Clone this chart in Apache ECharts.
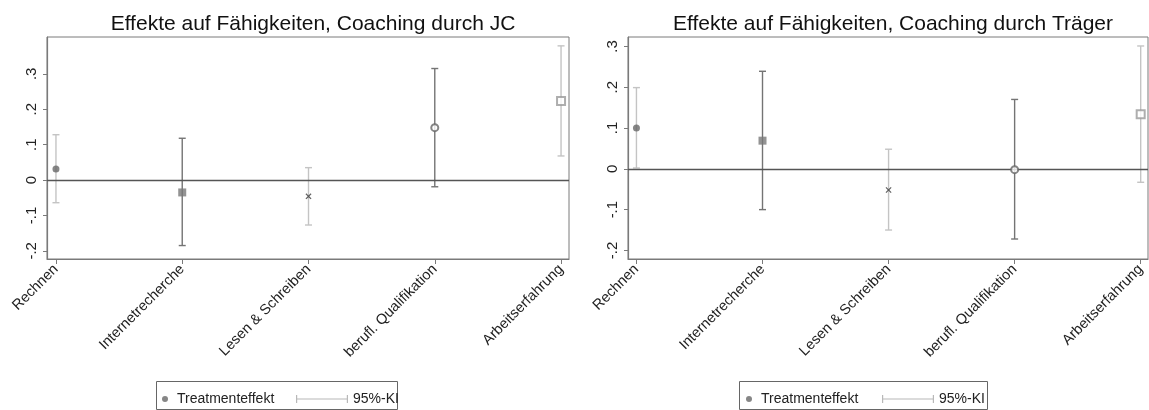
<!DOCTYPE html>
<html>
<head>
<meta charset="utf-8">
<script src="https://cdn.jsdelivr.net/npm/echarts@6/dist/echarts.min.js"></script>
<style>
  html, body { margin: 0; padding: 0; background: #fff; }
  #chart { width: 1149px; height: 410px; }
</style>
</head>
<body>
<div id="chart"></div>
<script>
// ---- data ----
const categories = ['Rechnen', 'Internetrecherche', 'Lesen & Schreiben', 'berufl. Qualifikation', 'Arbeitserfahrung'];
const titles = ['Effekte auf Fähigkeiten, Coaching durch JC', 'Effekte auf Fähigkeiten, Coaching durch Träger'];

const jcEffect = [0.031, -0.035, -0.046, 0.148, 0.223];
const jcLow    = [-0.064, -0.185, -0.127, -0.019, 0.068];
const jcHigh   = [0.128, 0.118, 0.035, 0.315, 0.379];

const trEffect = [0.100, 0.069, -0.052, -0.002, 0.134];
const trLow    = [0.002, -0.100, -0.150, -0.172, -0.033];
const trHigh   = [0.199, 0.239, 0.048, 0.170, 0.301];

const yTickValues = [-0.2, -0.1, 0, 0.1, 0.2, 0.3];
const yTickLabels = ['-.2', '-.1', '0', '.1', '.2', '.3'];
const legendNames = ['Treatmenteffekt', '95%-KI'];

// ---- styles ----
const FONT = 'Liberation Sans, Arial, sans-serif';
const LIGHT = '#c4c4c4';
const DARK = '#747474';
const FRAME = '#7a7a7a';
const xPath = 'path://M0,1.4 L1.4,0 L5,3.6 L8.6,0 L10,1.4 L6.4,5 L10,8.6 L8.6,10 L5,6.4 L1.4,10 L0,8.6 L3.6,5 Z';
const markerStyles = [
  { symbol: 'circle', symbolSize: 7, itemStyle: { color: '#686868' } },
  { symbol: 'rect', symbolSize: 8, itemStyle: { color: '#787878' } },
  { symbol: xPath, symbolSize: 6, itemStyle: { color: '#3a3a3a' } },
  { symbol: 'emptyCircle', symbolSize: 7, itemStyle: { color: '#666', borderWidth: 1.4 } },
  { symbol: 'emptyRect', symbolSize: 8, itemStyle: { color: '#9a9a9a', borderWidth: 1.2 } }
];
const ciShade = [0, 1, 0, 1, 0]; // 0 light, 1 dark

const panels = [
  { eff: jcEffect, lo: jcLow, hi: jcHigh, grid: { left: 47, top: 37, width: 522, height: 222 }, yMin: -0.223, yMax: 0.404, xMin: 0.929, xMax: 5.063, titleX: 308,
    legendDot: 157, legendKI: 291, box: [156, 381, 241, 28] },
  { eff: trEffect, lo: trLow, hi: trHigh, grid: { left: 628, top: 37, width: 520, height: 222 }, yMin: -0.221, yMax: 0.323, xMin: 0.933, xMax: 5.058, titleX: 888,
    legendDot: 741, legendKI: 877, box: [739, 381, 248, 28] }
];

function renderCI(params, api) {
  const x = api.value(0), lo = api.value(1), hi = api.value(2), shade = api.value(3);
  const top = api.coord([x, hi]);
  const bot = api.coord([x, lo]);
  const cap = 3.5;
  const color = shade ? DARK : LIGHT;
  const st = { stroke: color, lineWidth: 1.4 };
  return {
    type: 'group',
    children: [
      { type: 'line', shape: { x1: top[0], y1: top[1], x2: bot[0], y2: bot[1] }, style: st },
      { type: 'line', shape: { x1: top[0] - cap, y1: top[1], x2: top[0] + cap, y2: top[1] }, style: st },
      { type: 'line', shape: { x1: bot[0] - cap, y1: bot[1], x2: bot[0] + cap, y2: bot[1] }, style: st }
    ]
  };
}

const option = {
  animation: false,
  backgroundColor: '#fff',
  title: [], grid: [], xAxis: [], yAxis: [], series: [], legend: [], graphic: []
};

panels.forEach((p, k) => {
  option.title.push({
    text: titles[k], left: p.titleX, top: 9, textAlign: 'center',
    textStyle: { fontFamily: FONT, fontSize: 21, fontWeight: 'normal', color: '#111' }
  });
  option.grid.push(Object.assign({ show: true, borderColor: FRAME, borderWidth: 1, backgroundColor: '#fff' }, p.grid));
  option.xAxis.push({
    type: 'value', gridIndex: k, min: p.xMin, max: p.xMax,
    splitLine: { show: false },
    axisLine: { show: true, onZero: false, lineStyle: { color: FRAME, width: 1.2 } },
    axisTick: { show: true, length: 5, lineStyle: { color: FRAME }, customValues: [1, 2, 3, 4, 5] },
    axisLabel: {
      customValues: [1, 2, 3, 4, 5], rotate: 45, margin: 8,
      formatter: v => categories[Math.round(v) - 1] || '',
      fontFamily: FONT, fontSize: 14.5, color: '#222'
    }
  });
  option.yAxis.push({
    type: 'value', gridIndex: k, min: p.yMin, max: p.yMax,
    splitLine: { show: false },
    axisLine: { show: true, onZero: false, lineStyle: { color: FRAME, width: 1.2 } },
    axisTick: { show: true, length: 4, lineStyle: { color: FRAME }, customValues: yTickValues },
    axisLabel: {
      customValues: yTickValues, rotate: 90, margin: 8,
      formatter: v => { const i = yTickValues.findIndex(t => Math.abs(t - v) < 1e-9); return i >= 0 ? yTickLabels[i] : ''; },
      fontFamily: FONT, fontSize: 15, color: '#222'
    }
  });
  option.series.push({
    name: legendNames[1], type: 'custom', xAxisIndex: k, yAxisIndex: k,
    renderItem: renderCI, itemStyle: { color: LIGHT },
    data: categories.map((c, i) => [i + 1, p.lo[i], p.hi[i], ciShade[i]]),
    z: 2,
    markLine: {
      silent: true, symbol: 'none', label: { show: false },
      lineStyle: { color: '#555', width: 1.3, type: 'solid' },
      emphasis: { disabled: true },
      data: [{ yAxis: 0 }]
    }
  });
  option.series.push({
    name: legendNames[0], type: 'scatter', xAxisIndex: k, yAxisIndex: k, z: 5,
    itemStyle: { color: '#686868' },
    data: categories.map((c, i) => Object.assign({ value: [i + 1, p.eff[i]] }, markerStyles[i]))
  });
  option.legend.push({
    left: p.legendDot, top: 387, itemWidth: 14, itemHeight: 6, selectedMode: false,
    data: [{ name: legendNames[0], icon: 'circle', itemStyle: { color: '#686868' } }],
    textStyle: { fontFamily: FONT, fontSize: 14, color: '#222' }
  });
  option.legend.push({
    left: p.legendKI, top: 387, itemWidth: 52, itemHeight: 8, selectedMode: false,
    data: [{ name: legendNames[1], icon: 'path://M0,0h1.2v8h-1.2z M0,3.5h52v1h-52z M50.8,0h1.2v8h-1.2z', itemStyle: { color: '#b8b8b8' } }],
    textStyle: { fontFamily: FONT, fontSize: 14, color: '#222' }
  });
  option.graphic.push({
    type: 'rect', shape: { x: p.box[0] + 0.5, y: p.box[1] + 0.5, width: p.box[2], height: p.box[3] },
    style: { fill: 'none', stroke: '#666', lineWidth: 1 }, silent: true
  });
});

const chart = echarts.init(document.getElementById('chart'), null, { renderer: 'canvas' });
chart.setOption(option);
</script>
</body>
</html>
